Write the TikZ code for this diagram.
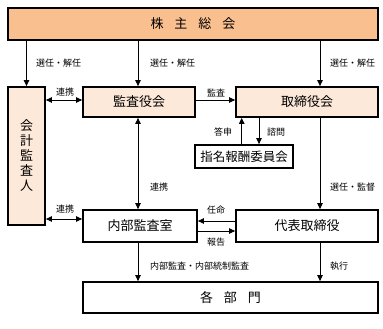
\documentclass[tikz,border=0pt]{standalone}
\usepackage{fontspec}
\setmainfont{Noto Sans CJK JP}
\usetikzlibrary{arrows.meta}
\definecolor{orangeA}{HTML}{F9BF8F}
\definecolor{orangeB}{HTML}{FDE9D9}
\begin{document}
\begin{tikzpicture}[x=1pt,y=-1pt,
  box/.style={draw=black,line width=1.8pt,inner sep=0pt,font=\fontsize{13}{15}\selectfont},
  arr/.style={line width=0.9pt,-{Triangle[length=6pt,width=5.5pt]}},
  darr/.style={line width=0.9pt,{Triangle[length=6pt,width=5.5pt]}-{Triangle[length=6pt,width=5.5pt]}},
  lbl/.style={inner sep=0pt,font=\fontsize{9}{10}\selectfont}]
\useasboundingbox[fill=white] (0,0) rectangle (383,329);
\node[box,fill=orangeA,minimum width=370pt,minimum height=32pt] (top) at (193,24) {株\hspace{11pt}主\hspace{11pt}総\hspace{11pt}会};
\node[box,fill=orangeB,minimum width=37pt,minimum height=138pt,align=center,font=\fontsize{13}{15}\selectfont] (kaikei) at (26.5,156) {会\\計\\監\\査\\人};
\node[box,fill=orangeB,minimum width=112pt,minimum height=30pt] (kansa) at (139,102) {監査役会};
\node[box,fill=orangeB,minimum width=142pt,minimum height=30pt] (tori) at (307,102) {取締役会};
\node[box,fill=white,minimum width=98pt,minimum height=23pt,font=\fontsize{12.5}{14}\selectfont] (shimei) at (244,156.5) {指名報酬委員会};
\node[box,fill=white,minimum width=114pt,minimum height=32pt] (naibu) at (140,226) {内部監査室};
\node[box,fill=white,minimum width=142pt,minimum height=32pt] (daihyo) at (307,226) {代表取締役};
\node[box,fill=white,minimum width=295pt,minimum height=31pt] (kakubu) at (230.5,297.5) {各\hspace{11pt}部\hspace{11pt}門};
% top arrows
\draw[arr] (top.south -| kaikei) -- (kaikei.north);
\draw[arr] ([xshift=-1pt]top.south -| kansa) -- ([xshift=-1pt]kansa.north);
\draw[arr] ([xshift=13pt]top.south -| tori) -- ([xshift=13pt]tori.north);
\node[lbl,anchor=west] (l1) at (36,63) {選任・解任};
\node[lbl,anchor=west] (l2) at (150,63) {選任・解任};
\node[lbl,anchor=west] (l3) at (330,63) {選任・解任};
% upper horizontal
\coordinate (ka) at ([yshift=2pt]kansa.west);
\draw[darr] (kaikei.east |- ka) -- (ka);
\node[lbl] (l4) at (65,92) {連携};
\draw[arr] ([yshift=2pt]kansa.east) -- ([yshift=2pt]tori.west);
\node[lbl] (l5) at (216,93) {監査};
% committee
\draw[arr] ([xshift=-2.3pt]shimei.north) -- ([xshift=-2.3pt]shimei.north |- tori.south);
\draw[arr] ([xshift=15pt]shimei.north |- tori.south) -- ([xshift=15pt]shimei.north);
\node[lbl] (l6) at (223,132) {答申};
\node[lbl] (l7) at (276,132) {諮問};
% middle verticals
\draw[darr] ([xshift=-1pt]kansa.south) -- ([xshift=-1pt]kansa.south |- naibu.north);
\node[lbl,anchor=west] (l8) at (150,187) {連携};
\draw[arr] ([xshift=13pt]tori.south) -- ([xshift=13pt]tori.south |- daihyo.north);
\node[lbl,anchor=west] (l9) at (330,187) {選任・監督};
% lower horizontal
\coordinate (nw) at ([yshift=7pt]naibu.west);
\draw[darr] (kaikei.east |- nw) -- (nw);
\node[lbl] (l10) at (65,209) {連携};
\draw[arr] ([yshift=5pt]daihyo.west) -- ([yshift=5pt]naibu.east);
\node[lbl] (l11) at (216,210) {任命};
\draw[arr] ([yshift=-5pt]naibu.east) -- ([yshift=-5pt]daihyo.west);
\node[lbl] (l12) at (216,242) {報告};
% bottom
\draw[arr] ([xshift=-2pt]naibu.south) -- ([xshift=-2pt]naibu.south |- kakubu.north);
\node[lbl,anchor=west] (l13) at (150,266) {内部監査・内部統制監査};
\draw[arr] ([xshift=13pt]daihyo.south) -- ([xshift=13pt]daihyo.south |- kakubu.north);
\node[lbl,anchor=west] (l14) at (330,266) {執行};
\end{tikzpicture}
\end{document}
